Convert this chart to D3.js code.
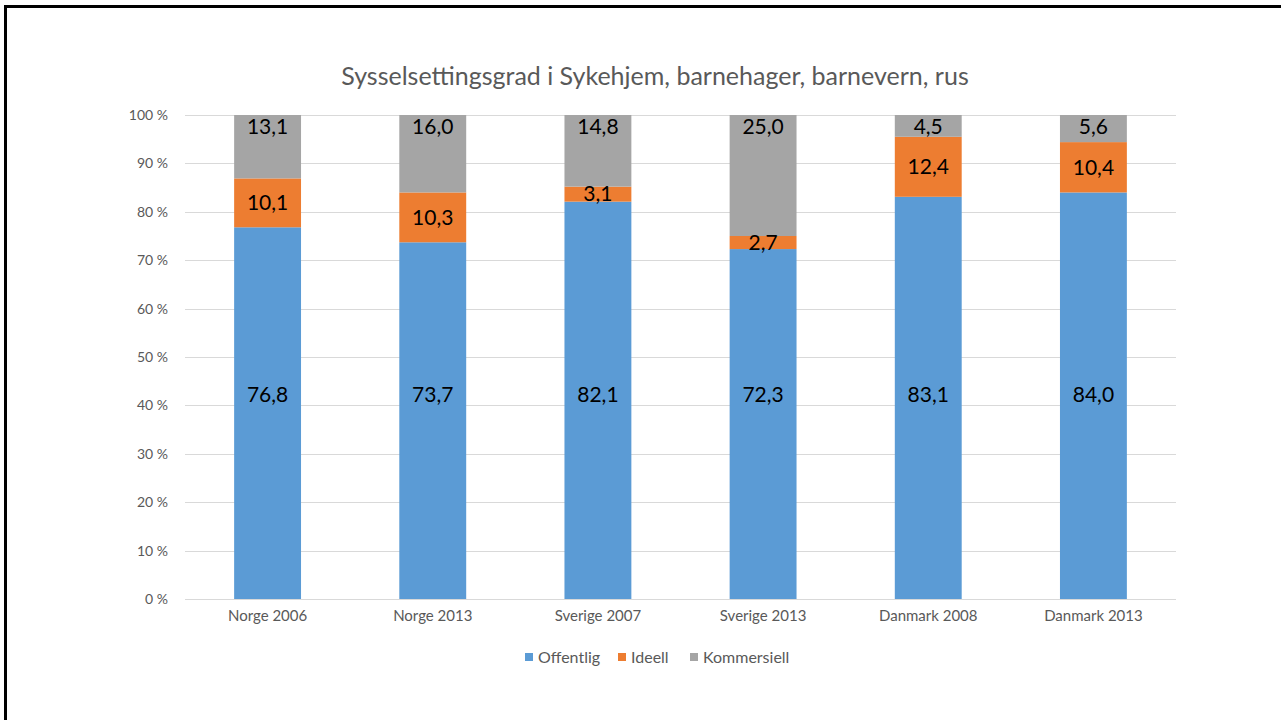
<!DOCTYPE html>
<html>
<head>
<meta charset="utf-8">
<script src="https://cdn.jsdelivr.net/npm/d3@7"></script>
<style>
  html, body { margin: 0; padding: 0; background: #fff; }
  svg { display: block; }
  text { font-family: Lato, "Open Sans", sans-serif; }
</style>
</head>
<body>
<svg id="chart" width="1281" height="720"></svg>
<script>
const title = "Sysselsettingsgrad i Sykehjem, barnehager, barnevern, rus";
const categories = ["Norge 2006", "Norge 2013", "Sverige 2007", "Sverige 2013", "Danmark 2008", "Danmark 2013"];
const seriesNames = ["Offentlig", "Ideell", "Kommersiell"];
const offentlig = [76.8, 73.7, 82.1, 72.3, 83.1, 84.0];
const ideell = [10.1, 10.3, 3.1, 2.7, 12.4, 10.4];
const kommersiell = [13.1, 16.0, 14.8, 25.0, 4.5, 5.6];
const yTicks = [0, 10, 20, 30, 40, 50, 60, 70, 80, 90, 100];
const colors = ["#5B9BD5", "#ED7D31", "#A5A5A5"];

const svg = d3.select("#chart");

// slide border (top and left edges)
svg.append("line").attr("x1", 5.5).attr("x2", 1281).attr("y1", 6.5).attr("y2", 6.5)
  .attr("stroke", "#000").attr("stroke-width", 3);
svg.append("line").attr("x1", 5.5).attr("x2", 5.5).attr("y1", 5).attr("y2", 720)
  .attr("stroke", "#000").attr("stroke-width", 3);

const pLeft = 185, pRight = 1176, pTop = 115, pBottom = 599;

const x = d3.scaleBand().domain(categories).range([pLeft, pRight]).paddingInner(0.595).paddingOuter(0.2975);
const y = d3.scaleLinear().domain([0, 100]).range([pBottom, pTop]);

// gridlines
svg.append("g").selectAll("line").data(yTicks).join("line")
  .attr("x1", pLeft).attr("x2", pRight)
  .attr("y1", d => Math.round(y(d)) + 0.5).attr("y2", d => Math.round(y(d)) + 0.5)
  .attr("stroke", "#D9D9D9").attr("stroke-width", 1);

// y axis labels
const yAxis = d3.axisLeft(y).tickValues(yTicks).tickFormat(d => d + " %").tickSize(0).tickPadding(0);
const ya = svg.append("g").attr("transform", `translate(${pLeft - 17},0)`).call(yAxis);
ya.select(".domain").remove();
ya.selectAll("text").attr("fill", "#595959").style("font-size", "14px").style("font-family", "Lato, sans-serif");

// x axis labels
const xAxis = d3.axisBottom(x).tickSize(0).tickPadding(0);
const xa = svg.append("g").attr("transform", `translate(0,${pBottom + 11})`).call(xAxis);
xa.select(".domain").remove();
xa.selectAll("text").attr("fill", "#595959").style("font-size", "15px").style("font-family", "Lato, sans-serif");

// stacked data
const rows = categories.map((c, i) => ({cat: c, Offentlig: offentlig[i], Ideell: ideell[i], Kommersiell: kommersiell[i]}));
const stack = d3.stack().keys(seriesNames)(rows);

const g = svg.append("g");
stack.forEach((layer, si) => {
  g.append("g").attr("fill", colors[si]).selectAll("rect").data(layer).join("rect")
    .attr("x", d => x(d.data.cat))
    .attr("width", x.bandwidth())
    .attr("y", d => y(d[1]))
    .attr("height", d => y(d[0]) - y(d[1]));
});

const fmt = v => v.toFixed(1).replace(".", ",");
// labels
stack.forEach((layer, si) => {
  g.append("g").selectAll("text").data(layer).join("text")
    .attr("x", d => x(d.data.cat) + x.bandwidth() / 2)
    .attr("y", d => {
      if (si === 0) return y(42.2);
      if (si === 2) return y(97.5);
      return y((d[0] + d[1]) / 2);
    })
    .attr("dy", "0.35em")
    .attr("text-anchor", "middle")
    .attr("fill", "#000")
    .style("font-size", "21px")
    .text(d => fmt(d[1] - d[0]));
});

// title
svg.append("text").attr("x", 655).attr("y", 85).attr("text-anchor", "middle")
  .attr("fill", "#595959").style("font-size", "25px").text(title);

// legend
const legendX = [525, 618, 690];
const lg = svg.append("g");
seriesNames.forEach((s, i) => {
  lg.append("rect").attr("x", legendX[i]).attr("y", 653).attr("width", 8).attr("height", 8).attr("fill", colors[i]);
  lg.append("text").attr("x", legendX[i] + 13).attr("y", 657).attr("dy", "0.35em")
    .attr("fill", "#595959").style("font-size", "16px").text(s);
});
</script>
</body>
</html>
